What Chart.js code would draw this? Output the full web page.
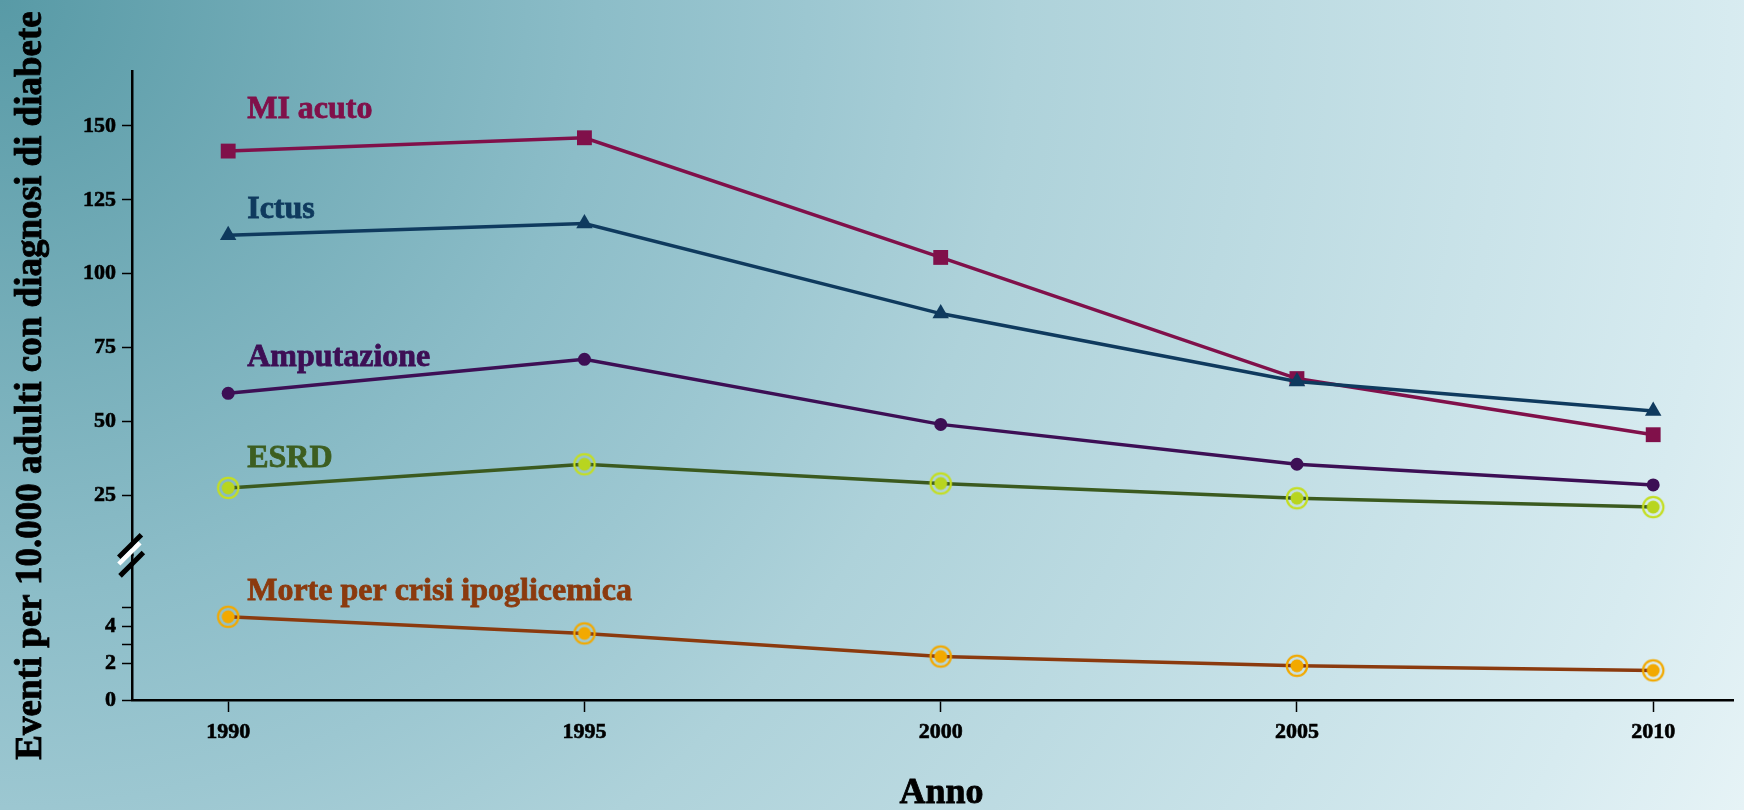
<!DOCTYPE html>
<html>
<head>
<meta charset="utf-8">
<script src="https://cdn.jsdelivr.net/npm/chart.js@4.4.1/dist/chart.umd.min.js"></script>
<style>
  html, body { margin: 0; padding: 0; }
  canvas { display: block; }
</style>
</head>
<body>
<canvas id="myChart" width="1744" height="810"></canvas>
<script>
// data
const years = [1990, 1995, 2000, 2005, 2010];
const miAcuto = [141.5, 146, 105.5, 64.5, 45.5];
const ictus = [113, 117, 86.5, 63.5, 53.5];
const amputazione = [59.5, 71, 49, 35.5, 28.5];
const esrd = [27.5, 35.5, 29, 24, 21];
const morte = [4.5, 3.6, 2.35, 1.85, 1.6];

const seriesNames = ['MI acuto', 'Ictus', 'Amputazione', 'ESRD', 'Morte per crisi ipoglicemica'];
const upperTicks = [25, 50, 75, 100, 125, 150];
const lowerTicks = [0, 2, 3, 4, 5];
const lowerTickLabels = ['0', '2', '', '4', ''];
const xTicks = [1990, 1995, 2000, 2005, 2010];
const xTitle = 'Anno';
const yTitle = 'Eventi per 10.000 adulti con diagnosi di diabete';

const FONT = '"Liberation Serif", "Times New Roman", serif';

function ringPoint(fill, ring) {
  const c = document.createElement('canvas');
  c.width = 26; c.height = 26;
  const g = c.getContext('2d');
  g.fillStyle = fill;
  g.beginPath(); g.arc(13, 13, 6.5, 0, Math.PI * 2); g.fill();
  g.strokeStyle = ring; g.lineWidth = 2.2;
  g.beginPath(); g.arc(13, 13, 10.2, 0, Math.PI * 2); g.stroke();
  return c;
}

function pts(vals) {
  return vals.map((v, i) => ({ x: years[i], y: v }));
}

// label colour, offset from first point (px)
const labelStyle = [
  { color: '#80104a', dx: 19, dy: -33 },
  { color: '#0f3a5e', dx: 19, dy: -17 },
  { color: '#3d0f55', dx: 19, dy: -27 },
  { color: '#3d5e20', dx: 19, dy: -21 },
  { color: '#8b3a0e', dx: 19, dy: -17 }
];

const bgPlugin = {
  id: 'bg',
  beforeDraw(chart) {
    const ctx = chart.ctx;
    const w = chart.width, h = chart.height;
    const r = Math.sqrt(w * w + h * h);
    const g = ctx.createRadialGradient(0, 0, 0, 0, 0, r);
    g.addColorStop(0, '#589aa6');
    g.addColorStop(0.31, '#8cbdc8');
    g.addColorStop(0.42, '#9cc7d1');
    g.addColorStop(0.53, '#aed2da');
    g.addColorStop(0.9, '#d7ebf0');
    g.addColorStop(1, '#e6f3f6');
    ctx.save();
    ctx.fillStyle = g;
    ctx.fillRect(0, 0, w, h);
    ctx.restore();
  }
};

function boldText(ctx, text, x, y, color) {
  ctx.fillStyle = color;
  ctx.strokeStyle = color;
  ctx.lineWidth = 0.8;
  ctx.fillText(text, x, y);
  ctx.strokeText(text, x, y);
}

const decoPlugin = {
  id: 'deco',
  afterDatasetsDraw(chart) {
    const ctx = chart.ctx;
    const a = chart.chartArea;
    ctx.save();
    // series labels
    ctx.font = 'bold 32px ' + FONT;
    ctx.textAlign = 'left';
    ctx.textBaseline = 'alphabetic';
    chart.data.datasets.forEach((ds, i) => {
      const s = labelStyle[i];
      const xs = chart.scales.x;
      const ys = chart.scales[ds.yAxisID];
      boldText(ctx, seriesNames[i], xs.getPixelForValue(years[0]) + s.dx, ys.getPixelForValue(ds.data[0].y) + s.dy, s.color);
    });
    ctx.restore();

    // axis break mark
    const split = chart.scales.y2.top;
    const bx = chart.scales.y.right;
    ctx.save();
    ctx.translate(bx - 1, split);
    ctx.rotate(-Math.PI / 4);
    ctx.fillStyle = '#000';
    ctx.fillRect(5.7 - 16, -9.5, 32, 5);
    ctx.fillStyle = '#fff';
    ctx.fillRect(-15, -4.5, 30, 4.5);
    ctx.fillStyle = '#000';
    ctx.fillRect(-6 - 16.5, 4.5, 33, 5);
    ctx.restore();

    // y title
    ctx.save();
    ctx.translate(41, (a.top + a.bottom) / 2);
    ctx.rotate(-Math.PI / 2);
    ctx.font = 'bold 37px ' + FONT;
    ctx.textAlign = 'center';
    ctx.textBaseline = 'alphabetic';
    boldText(ctx, yTitle, 0, 0, '#000');
    ctx.restore();

    // x title
    ctx.save();
    ctx.font = 'bold 36px ' + FONT;
    ctx.textAlign = 'center';
    ctx.textBaseline = 'alphabetic';
    boldText(ctx, xTitle, (a.left + a.right) / 2 + 9, 803, '#000');
    ctx.restore();
  }
};

const yGrid = { drawOnChartArea: false, drawTicks: true, tickLength: 10, tickColor: '#000', tickWidth: 1.5 };
const yBorder = { display: true, color: '#000', width: 2.5 };
const tickFont = { family: FONT, size: 22, weight: 'bold' };

const ctx = document.getElementById('myChart').getContext('2d');
const myChart = new Chart(ctx, {
  type: 'line',
  data: {
    datasets: [
      { data: pts(miAcuto), yAxisID: 'y', borderColor: '#80104a', backgroundColor: '#80104a',
        pointStyle: 'rect', pointRadius: 10.5, order: 2 },
      { data: pts(ictus), yAxisID: 'y', borderColor: '#0f3a5e', backgroundColor: '#0f3a5e',
        pointStyle: 'triangle', pointRadius: 9.5, order: 1 },
      { data: pts(amputazione), yAxisID: 'y', borderColor: '#3d0f55', backgroundColor: '#3d0f55',
        pointStyle: 'circle', pointRadius: 6.5, order: 3 },
      { data: pts(esrd), yAxisID: 'y', borderColor: '#3b5a1f', backgroundColor: '#b8d51f',
        pointStyle: ringPoint('#b8d51f', '#c4de22'), pointRadius: 11, order: 4 },
      { data: pts(morte), yAxisID: 'y2', borderColor: '#8b3a0e', backgroundColor: '#f2a900',
        pointStyle: ringPoint('#f2a900', '#f2a900'), pointRadius: 11, order: 5 }
    ]
  },
  options: {
    responsive: false,
    animation: false,
    devicePixelRatio: 1,
    layout: { padding: { left: 0, top: 71, right: 9, bottom: 0 } },
    elements: {
      line: { borderWidth: 3.5, tension: 0 },
      point: { borderWidth: 0, hoverRadius: 11 }
    },
    plugins: { legend: { display: false }, tooltip: { enabled: false } },
    scales: {
      x: {
        type: 'linear',
        min: 1988.65,
        max: 2011.12,
        afterBuildTicks: s => { s.ticks = xTicks.map(v => ({ value: v })); },
        afterFit: s => { s.height = 110; },
        ticks: { color: '#000', font: tickFont, padding: 7, autoSkip: false, maxRotation: 0,
          textStrokeColor: '#000', textStrokeWidth: 0.6,
          callback: v => String(v) },
        grid: { drawOnChartArea: false, drawTicks: true, tickLength: 12, tickColor: '#000', tickWidth: 1.5 },
        border: { display: true, color: '#000', width: 2.5 }
      },
      y: {
        type: 'linear',
        position: 'left',
        stack: 'split',
        stackWeight: 484,
        weight: 1,
        min: 4.79,
        max: 168.6,
        afterBuildTicks: s => { s.ticks = upperTicks.map(v => ({ value: v })); },
        afterFit: s => { s.width = 132; },
        ticks: { color: '#000', font: tickFont, padding: 6, autoSkip: false,
          textStrokeColor: '#000', textStrokeWidth: 0.6 },
        grid: yGrid,
        border: yBorder
      },
      y2: {
        type: 'linear',
        position: 'left',
        stack: 'split',
        stackWeight: 145,
        weight: 0,
        min: 0,
        max: 7.84,
        afterBuildTicks: s => { s.ticks = lowerTicks.map(v => ({ value: v })); },
        afterFit: s => { s.width = 132; },
        ticks: { color: '#000', font: tickFont, padding: 6, autoSkip: false,
          textStrokeColor: '#000', textStrokeWidth: 0.6,
          callback: (v, i) => lowerTickLabels[i] },
        grid: yGrid,
        border: yBorder
      }
    }
  },
  plugins: [bgPlugin, decoPlugin]
});
</script>
</body>
</html>
